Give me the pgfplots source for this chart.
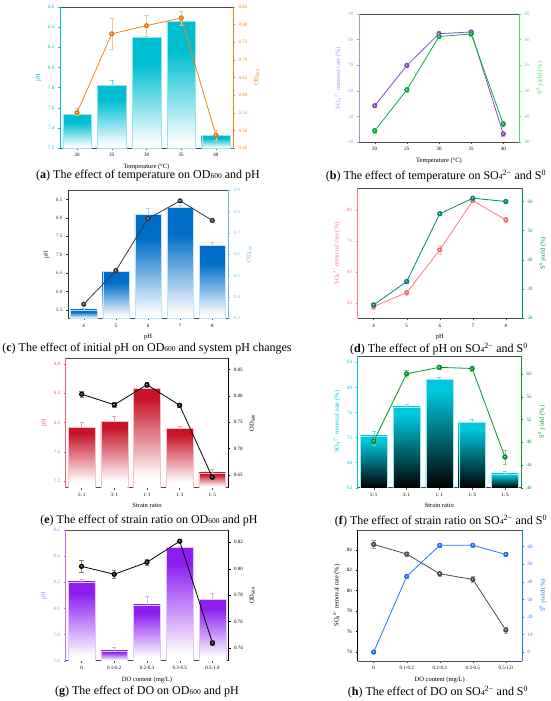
\documentclass[border=0pt]{standalone}
\usepackage{fontspec}
\setmainfont{Liberation Serif}
\usepackage{pgfplots}
\pgfplotsset{compat=1.18}

\definecolor{cyanA}{RGB}{0,190,210}
\definecolor{orangeA}{RGB}{245,130,20}
\definecolor{purpB}{RGB}{145,75,190}
\definecolor{purpBax}{RGB}{185,140,225}
\definecolor{greenB}{RGB}{0,175,70}
\definecolor{greenBax}{RGB}{70,215,110}
\definecolor{blueC}{RGB}{0,110,200}
\definecolor{blueCax}{RGB}{110,185,235}
\definecolor{greyC}{RGB}{55,55,55}
\definecolor{pinkD}{RGB}{250,125,125}
\definecolor{tealD}{RGB}{0,135,125}
\definecolor{redE}{RGB}{200,20,40}
\definecolor{redEax}{RGB}{235,95,115}
\definecolor{cyanF}{RGB}{0,200,220}
\definecolor{greenF}{RGB}{0,150,40}
\definecolor{purpG}{RGB}{140,30,240}
\definecolor{purpGax}{RGB}{190,110,255}
\definecolor{greyH}{RGB}{75,75,75}
\definecolor{blueH}{RGB}{30,120,255}

\pgfdeclareverticalshading{barA}{100bp}{color(0bp)=(white); color(27bp)=(white); color(63bp)=(cyanA); color(100bp)=(cyanA)}
\pgfdeclareverticalshading{barC}{100bp}{color(0bp)=(white); color(27bp)=(white); color(63bp)=(blueC); color(100bp)=(blueC)}
\pgfdeclareverticalshading{barE}{100bp}{color(0bp)=(white); color(30bp)=(white); color(70bp)=(redE); color(100bp)=(redE)}
\pgfdeclareverticalshading{barF}{100bp}{color(0bp)=(black); color(25bp)=(black); color(70bp)=(cyanF); color(100bp)=(cyanF)}
\pgfdeclareverticalshading{barG}{100bp}{color(0bp)=(white); color(28bp)=(white); color(68bp)=(purpG); color(100bp)=(purpG)}

\newcommand{\OD}{OD\textsubscript{600}}
\newcommand{\SO}{SO\textsubscript{4}\textsuperscript{2−}}
\newcommand{\capOD}{OD{\fontsize{7.5}{7.5}\selectfont 600}}
\newcommand{\capSO}{SO{\fontsize{7.5}{7.5}\selectfont 4}\textsuperscript{2−}}

\pgfplotsset{
  panel/.style={
    scale only axis, anchor=south west,
    xmin=-0.49, xmax=4.49, xtick={0,1,2,3,4},
    tick align=outside, major tick length=2pt,
    axis line style={line width=0.5pt},
    every tick/.append style={line width=0.4pt},
    tick label style={font=\fontsize{5}{6}\selectfont},
    label style={font=\fontsize{6.5}{7.5}\selectfont},
    /pgf/number format/assume math mode=true,
    scaled y ticks=false,
  },
  leftax/.style={axis y line*=left, axis x line*=box, xtick pos=left,
    x axis line style={black!70}, xtick style={black!70}},
  rightax/.style={axis y line*=right, axis x line=none},
  dec1/.style={yticklabel style={/pgf/number format/fixed, /pgf/number format/fixed zerofill, /pgf/number format/precision=1}},
  dec2/.style={yticklabel style={/pgf/number format/fixed, /pgf/number format/fixed zerofill, /pgf/number format/precision=2}},
  ycol/.style={y axis line style={#1}, ytick style={#1}, yticklabel style={#1}, ylabel style={#1}},
  ln/.style={color=#1, line width=0.8pt, mark=ball, mark size=2.2pt, mark options={ball color=#1},
    error bars/.cd, y dir=both, y explicit, error bar style={#1!50, line width=0.4pt}},
  br/.style 2 args={ybar, bar width=0.82, shade, shading=#1, line width=0.4pt, draw=#2!40,
    error bars/.cd, y dir=plus, y explicit, error bar style={#2!60, line width=0.4pt}},
}

\begin{document}
\begin{tikzpicture}
\useasboundingbox (0pt,0pt) rectangle (550pt,-701pt);

% ---------------- (a)
\begin{axis}[panel, leftax, at={(60pt,-148pt)}, width=173pt, height=141pt,
  ymin=7.2, ymax=8.6, ytick={7.2,7.4,7.6,7.8,8.0,8.2,8.4,8.6}, dec1, ycol=cyanA,
  xticklabels={20,25,30,35,40}, xlabel={Temperature (°C)}, ylabel={pH}]
\addplot[br={barA}{cyanA}] coordinates {(0,7.534)+-(0,0.06)};
\addplot[br={barA}{cyanA}] coordinates {(1,7.822)+-(0,0.056)};
\addplot[br={barA}{cyanA}] coordinates {(2,8.30)+-(0,0.01)};
\addplot[br={barA}{cyanA}] coordinates {(3,8.46)+-(0,0.01)};
\addplot[br={barA}{cyanA}] coordinates {(4,7.326)+-(0,0.02)};
\end{axis}
\begin{axis}[panel, rightax, at={(60pt,-148pt)}, width=173pt, height=141pt,
  ymin=0.45, ymax=0.85, ytick={0.45,0.50,0.55,0.60,0.65,0.70,0.75,0.80,0.85}, dec2, ycol=orangeA,
  ylabel={\OD}]
\addplot[ln=orangeA] coordinates {(0,0.550)+-(0,0.008) (1,0.774)+-(0,0.045) (2,0.797)+-(0,0.03) (3,0.819)+-(0,0.02) (4,0.486)+-(0,0.015)};
\end{axis}

% ---------------- (b)
\begin{axis}[panel, leftax, at={(359pt,-142pt)}, width=160pt, height=128pt,
  ymin=40, ymax=90, ytick={40,50,60,70,80,90}, ycol=purpBax,
  xticklabels={20,25,30,35,40}, xlabel={Temperature (°C)}, ylabel={\SO\ removal rate (\%)}]
\addplot[ln=purpB] coordinates {(0,54.2)+-(0,0.6) (1,69.9)+-(0,0.8) (2,82.3)+-(0,1.0) (3,83.0)+-(0,0.6) (4,43.2)+-(0,0.8)};
\end{axis}
\begin{axis}[panel, rightax, at={(359pt,-142pt)}, width=160pt, height=128pt,
  ymin=40, ymax=65, ytick={40,45,50,55,60,65}, ycol=greenBax,
  ylabel={S\textsuperscript{0} yield (\%)}]
\addplot[ln=greenB] coordinates {(0,42.2)+-(0,0.4) (1,50.2)+-(0,0.5) (2,60.6)+-(0,0.4) (3,61.1)+-(0,0.4) (4,43.5)+-(0,0.5)};
\end{axis}

% ---------------- (c)
\begin{axis}[panel, axis y line*=right, axis x line*=box, xtick pos=left,
  x axis line style={black!70}, xtick style={black!70},
  at={(68pt,-318.3pt)}, width=160pt, height=128pt,
  ymin=0.3, ymax=0.9, ytick={0.3,0.4,0.5,0.6,0.7,0.8,0.9}, dec1, ycol=blueCax,
  xticklabels={4,5,6,7,8}, xlabel={pH}, ylabel={\OD}]
\addplot[br={barC}{blueCax}] coordinates {(0,0.339)+-(0,0.01)};
\addplot[br={barC}{blueCax}] coordinates {(1,0.520)+-(0,0.01)};
\addplot[br={barC}{blueCax}] coordinates {(2,0.788)+-(0,0.03)};
\addplot[br={barC}{blueCax}] coordinates {(3,0.819)+-(0,0.01)};
\addplot[br={barC}{blueCax}] coordinates {(4,0.641)+-(0,0.017)};
\end{axis}
\begin{axis}[panel, axis y line*=left, axis x line=none, at={(68pt,-318.3pt)}, width=160pt, height=128pt,
  ymin=5.27, ymax=8.75, ytick={5.5,6.0,6.5,7.0,7.5,8.0,8.5}, dec1, ycol=greyC,
  ylabel={pH}]
\addplot[ln=greyC] coordinates {(0,5.654)+-(0,0.02) (1,6.566)+-(0,0.02) (2,7.98)+-(0,0.03) (3,8.463)+-(0,0.02) (4,7.93)+-(0,0.02)};
\end{axis}

% ---------------- (d)
\begin{axis}[panel, leftax, at={(357.5pt,-318.3pt)}, width=164.5pt, height=130pt,
  ymin=45, ymax=87, ytick={50,60,70,80}, ycol=pinkD,
  xticklabels={4,5,6,7,8}, xlabel={pH}, ylabel={\SO\ removal rate (\%)}]
\addplot[ln=pinkD] coordinates {(0,48.8)+-(0,0.8) (1,53.3)+-(0,0.8) (2,67.1)+-(0,1.5) (3,83.0)+-(0,0.6) (4,76.8)+-(0,0.8)};
\end{axis}
\begin{axis}[panel, rightax, at={(357.5pt,-318.3pt)}, width=164.5pt, height=130pt,
  ymin=20, ymax=64.5, ytick={20,30,40,50,60}, ycol=tealD,
  ylabel={S\textsuperscript{0} yield (\%)}]
\addplot[ln=tealD] coordinates {(0,24.6)+-(0,0.5) (1,32.6)+-(0,0.5) (2,55.8)+-(0,0.5) (3,61.1)+-(0,0.5) (4,60.0)+-(0,0.5)};
\end{axis}

% ---------------- (e)
\begin{axis}[panel, leftax, at={(65.7pt,-487.7pt)}, width=162.6pt, height=129.4pt,
  ymin=7.108, ymax=8.878, ytick={7.2,7.6,8.0,8.4,8.8}, dec1, ycol=redEax,
  xticklabels={{5:\,1},{3:\,1},{1:\,1},{1:\,3},{1:\,5}}, xlabel={Strain ratio}, ylabel={pH}]
\addplot[br={barE}{redEax}] coordinates {(0,7.93)+-(0,0.07)};
\addplot[br={barE}{redEax}] coordinates {(1,8.02)+-(0,0.06)};
\addplot[br={barE}{redEax}] coordinates {(2,8.47)+-(0,0.03)};
\addplot[br={barE}{redEax}] coordinates {(3,7.92)+-(0,0.03)};
\addplot[br={barE}{redEax}] coordinates {(4,7.31)+-(0,0.05)};
\end{axis}
\begin{axis}[panel, rightax, at={(65.7pt,-487.7pt)}, width=162.6pt, height=129.4pt,
  ymin=0.626, ymax=0.871, ytick={0.65,0.70,0.75,0.80,0.85}, dec2, ycol=black,
  ylabel={\OD}]
\addplot[ln=black] coordinates {(0,0.803)+-(0,0.006) (1,0.783)+-(0,0.004) (2,0.821)+-(0,0.005) (3,0.782)+-(0,0.003) (4,0.646)+-(0,0.003)};
\end{axis}

% ---------------- (f)
\begin{axis}[panel, leftax, at={(357.7pt,-487.7pt)}, width=163.3pt, height=131.7pt,
  ymin=64, ymax=85, ytick={64,68,72,76,80,84}, ycol=cyanF,
  xticklabels={{5:\,1},{3:\,1},{1:\,1},{1:\,3},{1:\,5}}, xlabel={Strain ratio}, ylabel={\SO\ removal rate (\%)}]
\addplot[br={barF}{cyanF}] coordinates {(0,72.25)+-(0,0.7)};
\addplot[br={barF}{cyanF}] coordinates {(1,76.9)+-(0,0.4)};
\addplot[br={barF}{cyanF}] coordinates {(2,81.3)+-(0,0.3)};
\addplot[br={barF}{cyanF}] coordinates {(3,74.4)+-(0,0.5)};
\addplot[br={barF}{cyanF}] coordinates {(4,66.2)+-(0,0.4)};
\end{axis}
\begin{axis}[panel, rightax, at={(357.7pt,-487.7pt)}, width=163.3pt, height=131.7pt,
  ymin=40, ymax=63.2, ytick={40,44,48,52,56,60}, ycol=greenF,
  ylabel={S\textsuperscript{0} yield (\%)}]
\addplot[ln=greenF] coordinates {(0,48.2)+-(0,0.8) (1,60.06)+-(0,0.6) (2,61.2)+-(0,0.3) (3,61.0)+-(0,0.4) (4,45.4)+-(0,1.2)};
\end{axis}

% ---------------- (g)
\begin{axis}[panel, leftax, at={(65.5pt,-660.7pt)}, width=163pt, height=130.7pt,
  ymin=7.6, ymax=8.6, ytick={7.6,7.8,8.0,8.2,8.4,8.6}, dec1, ycol=purpGax,
  xticklabels={0,0.1-0.2,0.2-0.3,0.3-0.5,0.5-1.0}, xlabel={DO content (mg/L)}, ylabel={pH}]
\addplot[br={barG}{purpGax}] coordinates {(0,8.204)+-(0,0.02)};
\addplot[br={barG}{purpGax}] coordinates {(1,7.676)+-(0,0.03)};
\addplot[br={barG}{purpGax}] coordinates {(2,8.027)+-(0,0.07)};
\addplot[br={barG}{purpGax}] coordinates {(3,8.469)+-(0,0.01)};
\addplot[br={barG}{purpGax}] coordinates {(4,8.068)+-(0,0.05)};
\end{axis}
\begin{axis}[panel, rightax, at={(65.5pt,-660.7pt)}, width=163pt, height=130.7pt,
  ymin=0.7304, ymax=0.8293, ytick={0.74,0.76,0.78,0.80,0.82}, dec2, ycol=black,
  ylabel={\OD}]
\addplot[ln=black] coordinates {(0,0.8018)+-(0,0.0045) (1,0.7958)+-(0,0.003) (2,0.8049)+-(0,0.002) (3,0.8208)+-(0,0.001) (4,0.7438)+-(0,0.002)};
\end{axis}

% ---------------- (h)
\begin{axis}[panel, leftax, at={(357.5pt,-661pt)}, width=164.5pt, height=131pt,
  ymin=73.12, ymax=85.93, ytick={74,76,78,80,82,84,86}, ycol=black,
  xticklabels={0,0.1-0.2,0.2-0.3,0.3-0.5,0.5-1.0}, xlabel={DO content (mg/L)}, ylabel={\SO\ removal rate (\%)}]
\addplot[ln=greyH] coordinates {(0,84.52)+-(0,0.4) (1,83.58)+-(0,0.2) (2,81.65)+-(0,0.2) (3,81.10)+-(0,0.3) (4,76.15)+-(0,0.3)};
\end{axis}
\begin{axis}[panel, rightax, at={(357.5pt,-661pt)}, width=164.5pt, height=131pt,
  ymin=-5.1, ymax=69.5, ytick={0,10,20,30,40,50,60,70}, ycol=blueH,
  ylabel={S\textsuperscript{0} yield (\%)}]
\addplot[ln=blueH] coordinates {(0,0)+-(0,0.5) (1,43.1)+-(0,1) (2,60.8)+-(0,1) (3,60.8)+-(0,1) (4,55.6)+-(0,1)};
\end{axis}

% ---------------- captions
\begin{scope}[every node/.style={font=\fontsize{12}{14}\selectfont, inner sep=0pt}]
\node at (148pt,-176pt) {(\textbf{a}) The effect of temperature on \capOD\ and pH};
\node at (436pt,-176pt) {(\textbf{b}) The effect of temperature on \capSO\ and S\textsuperscript{0}};
\node at (147pt,-349pt) {(\textbf{c}) The effect of initial pH on \capOD\ and system pH changes};
\node at (439pt,-349pt) {(\textbf{d}) The effect of pH on \capSO\ and S\textsuperscript{0}};
\node at (149pt,-521pt) {(\textbf{e}) The effect of strain ratio on \capOD\ and pH};
\node at (441pt,-521pt) {(\textbf{f}) The effect of strain ratio on \capSO\ and S\textsuperscript{0}};
\node at (147pt,-692pt) {(\textbf{g}) The effect of DO on \capOD\ and pH};
\node at (438pt,-692pt) {(\textbf{h}) The effect of DO on \capSO\ and S\textsuperscript{0}};
\end{scope}
\end{tikzpicture}
\end{document}
